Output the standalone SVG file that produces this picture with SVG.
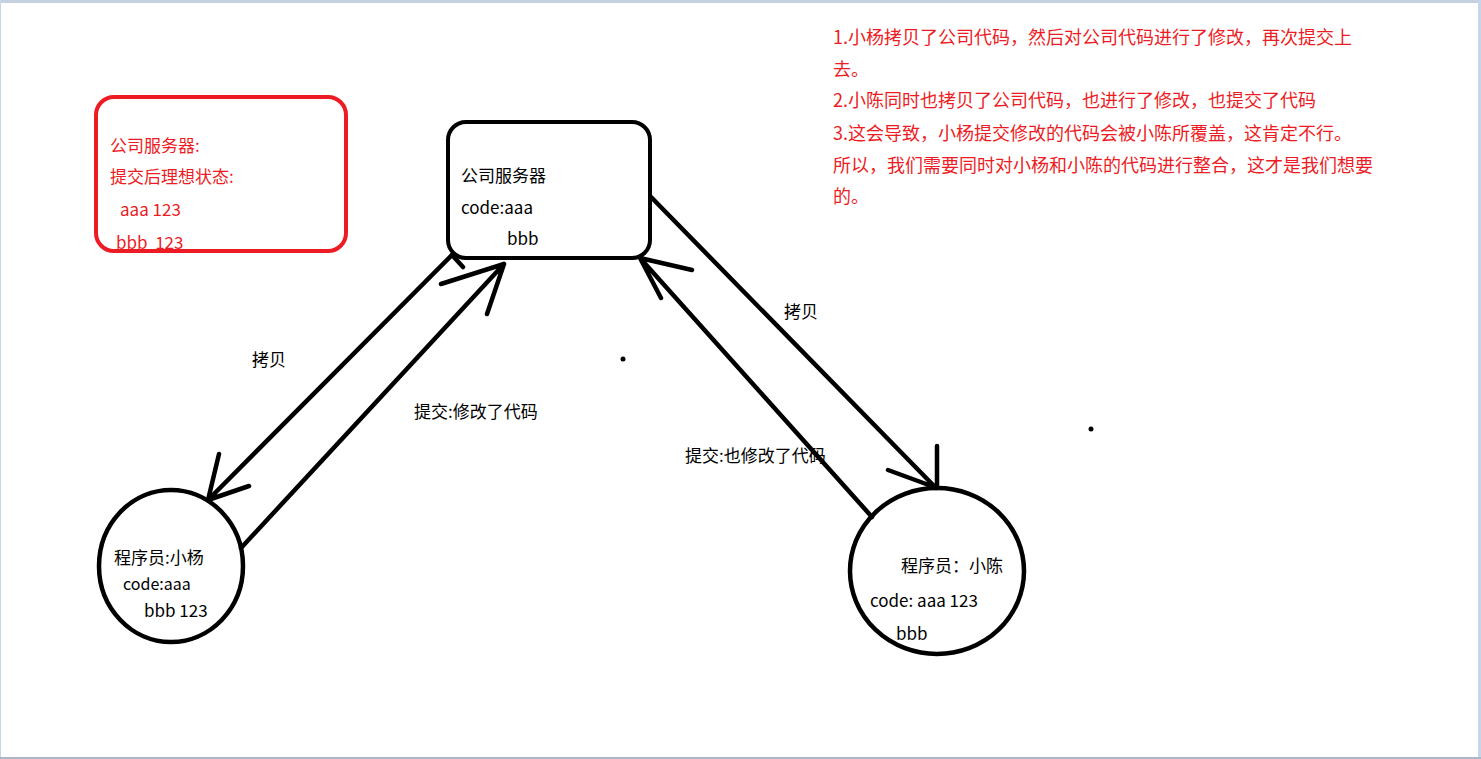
<svg xmlns="http://www.w3.org/2000/svg" width="1481" height="759" viewBox="0 0 1481 759">
<style>
text{font-family:"Noto Sans CJK SC","Noto Sans",sans-serif;font-size:17px;fill:#000}
.r{fill:#ed1c24}
.big{font-size:18px}
.sm{font-size:16px}
.ln{stroke:#000;stroke-width:4.5;fill:none;stroke-linecap:round;stroke-linejoin:round}
</style>
<rect x="0" y="0" width="1481" height="759" fill="#fff"/>
<rect x="0" y="0" width="1481" height="3" fill="#c5d0e0"/>
<rect x="0" y="0" width="1" height="759" fill="#c5d5ea"/>
<rect x="1478" y="0" width="3" height="759" fill="#c5d5ea"/>
<rect x="0" y="757" width="1481" height="2" fill="#aab7c9"/>

<g id="note">
<text class="r big" x="833" y="44">1.小杨拷贝了公司代码，然后对公司代码进行了修改，再次提交上</text>
<text class="r big" x="833" y="76">去。</text>
<text class="r big" x="833" y="107">2.小陈同时也拷贝了公司代码，也进行了修改，也提交了代码</text>
<text class="r big" x="833" y="140">3.这会导致，小杨提交修改的代码会被小陈所覆盖，这肯定不行。</text>
<text class="r big" x="833" y="172">所以，我们需要同时对小杨和小陈的代码进行整合，这才是我们想要</text>
<text class="r big" x="833" y="203">的。</text>
</g>

<g id="ideal">
<text class="r" x="110" y="152">公司服务器:</text>
<text class="r" x="110" y="183">提交后理想状态:</text>
<text class="r" x="120" y="216">aaa 123</text>
<text class="r" x="116" y="249">bbb&#160; 123</text>
<rect x="96" y="97" width="250" height="154" rx="18" fill="none" stroke="#ed1c24" stroke-width="4"/>
</g>

<g id="server">
<rect x="448" y="122" width="202" height="136" rx="18" fill="none" stroke="#000" stroke-width="4"/>
<text x="461" y="182">公司服务器</text>
<text x="461" y="214">code:aaa</text>
<text x="507" y="245">bbb</text>
</g>

<g id="xiaoyang">
<ellipse cx="171" cy="566" rx="72" ry="76" fill="none" stroke="#000" stroke-width="4.5"/>
<text x="114" y="564">程序员:小杨</text>
<text class="sm" x="123" y="590">code:aaa</text>
<text x="144" y="617">bbb 123</text>
</g>

<g id="xiaochen">
<ellipse cx="937" cy="571" rx="87" ry="83" fill="none" stroke="#000" stroke-width="4.5"/>
<text x="901" y="572">程序员：小陈</text>
<text x="870" y="607">code: aaa 123</text>
<text x="896" y="640">bbb</text>
</g>

<g id="connectors">
<path class="ln" d="M452,255 L208,500 M219,454 L208,500 L249,486"/>
<path class="ln" d="M241,548 L504,264 M441,284 L504,264 L487,314 M452,255 L463,267"/>
<path class="ln" d="M651,197 L936,488 M937,446 L937,488 L888,470"/>
<path class="ln" d="M872,517 L640,258 L692,270 M640,258 L661,298"/>
</g>

<g id="labels">
<text x="252" y="366">拷贝</text>
<text x="414" y="418">提交:修改了代码</text>
<text x="784" y="318">拷贝</text>
<text x="685" y="462">提交:也修改了代码</text>
</g>
<circle cx="623" cy="359" r="2.5" fill="#000"/>
<circle cx="1091" cy="429" r="2.5" fill="#000"/>
</svg>
